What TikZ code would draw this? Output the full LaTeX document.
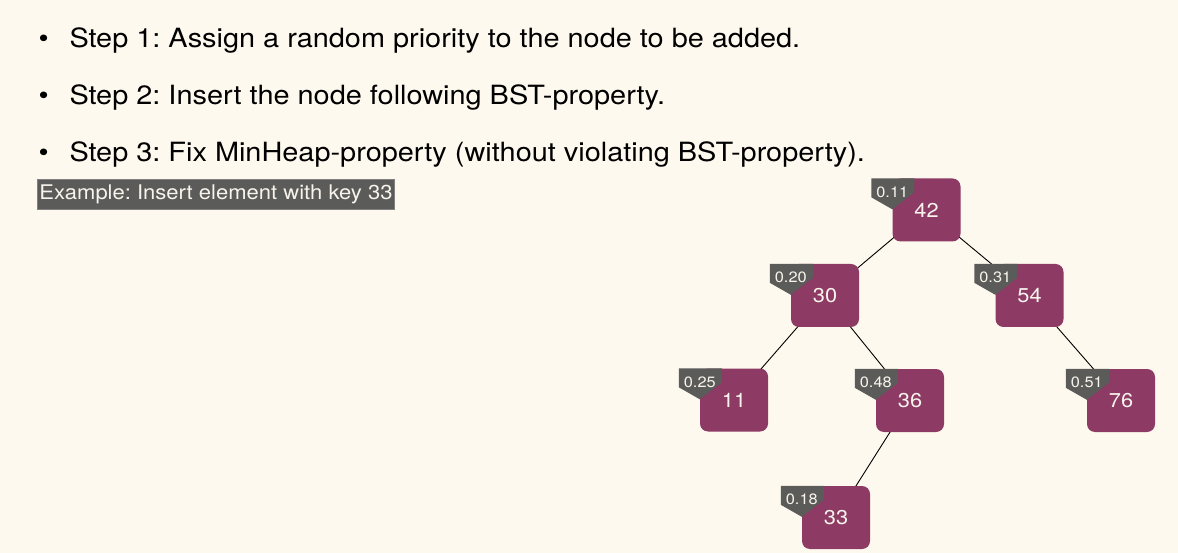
\documentclass[tikz,border=0pt]{standalone}
\usepackage{fontspec}
\setmainfont{TeX Gyre Heros}[FakeStretch=1.09]
\usepackage{tikz}
\usetikzlibrary{backgrounds}
\definecolor{paper}{HTML}{FEF9EE}
\definecolor{keyfill}{HTML}{8D3A64}
\definecolor{tagfill}{HTML}{5B5B59}
\definecolor{chalk}{HTML}{F8F4EC}
\frenchspacing

\tikzset{
  keybox/.style={fill=keyfill, rounded corners=8pt, minimum width=68pt, minimum height=63pt,
    inner sep=0pt, text=chalk, font=\fontsize{20}{24}\selectfont},
  tagtext/.style={inner sep=0pt, text=chalk, font=\fontsize{15}{18}\selectfont},
  steptext/.style={anchor=base west, inner sep=0pt, font=\fontsize{26.5}{30}\selectfont},
  dot/.style={anchor=base, inner sep=0pt, font=\fontsize{26.5}{30}\selectfont},
  treeedge/.style={black, line width=0.9pt}
}

% priority tag on the upper left corner of a key box
\newcommand{\prio}[2]{%
  \fill[tagfill] ([shift={(-21,0)}]#1.north west) -- ++(43,0) -- ++(0,14) -- ++(-22,17) -- ++(-21,-12) -- cycle;
  \node[tagtext] (p#1) at ([shift={(0,13.5)}]#1.north west) {#2};
}

\begin{document}
\begin{tikzpicture}[x=1pt,y=-1pt]
        \useasboundingbox (0,0) rectangle (1178,553);
        \begin{scope}[on background layer]
          \fill[paper] (0,0) rectangle (1178,553);
        \end{scope}

        % the three steps
        \node[dot] (b1) at (43.7,47.3){\textbullet};
        \node[steptext] (s1) at (69.3,47.3){Step 1: Assign a random priority to the node to be added.};
        \node[dot] (b2) at (43.7,104.5){\textbullet};
        \node[steptext] (s2) at (69.3,104.5){Step 2: Insert the node following BST-property.};
        \node[dot] (b3) at (43.7,161.7){\textbullet};
        \node[steptext] (s3) at (69.3,161.7){Step 3: Fix MinHeap-property (without violating BST-property).};

        \node[fill=tagfill, draw=gray, line width=0.6pt, text=chalk, inner sep=0pt,
              minimum width=357pt, minimum height=30pt, font=\fontsize{20.2}{22}\selectfont]
              (ex) at (216,194){Example: Insert element with key 33};

        % treap
        \node[keybox] (n42) at (926.5,210){42};
        \node[keybox] (n30) at (825,295.5){30};
        \node[keybox] (n54) at (1029.5,295.5){54};
        \node[keybox] (n11) at (734,400){11};
        \node[keybox] (n36) at (910,400.5){36};
        \node[keybox] (n76) at (1121,400.5){76};
        \node[keybox] (n33) at (836,517.5){33};

        \prio{n42}{0.11}
        \prio{n30}{0.20}
        \prio{n54}{0.31}
        \prio{n11}{0.25}
        \prio{n36}{0.48}
        \prio{n76}{0.51}
        \prio{n33}{0.18}

        \begin{scope}[on background layer]
          \draw[treeedge] (n42.center) -- (n30.center);
          \draw[treeedge] (n42.center) -- (n54.center);
          \draw[treeedge] (n30.center) -- (n11.center);
          \draw[treeedge] (n30.center) -- (n36.center);
          \draw[treeedge] (n54.center) -- (n76.center);
          \draw[treeedge] (n36.center) -- (n33.center);
        \end{scope}
\end{tikzpicture}
\end{document}
